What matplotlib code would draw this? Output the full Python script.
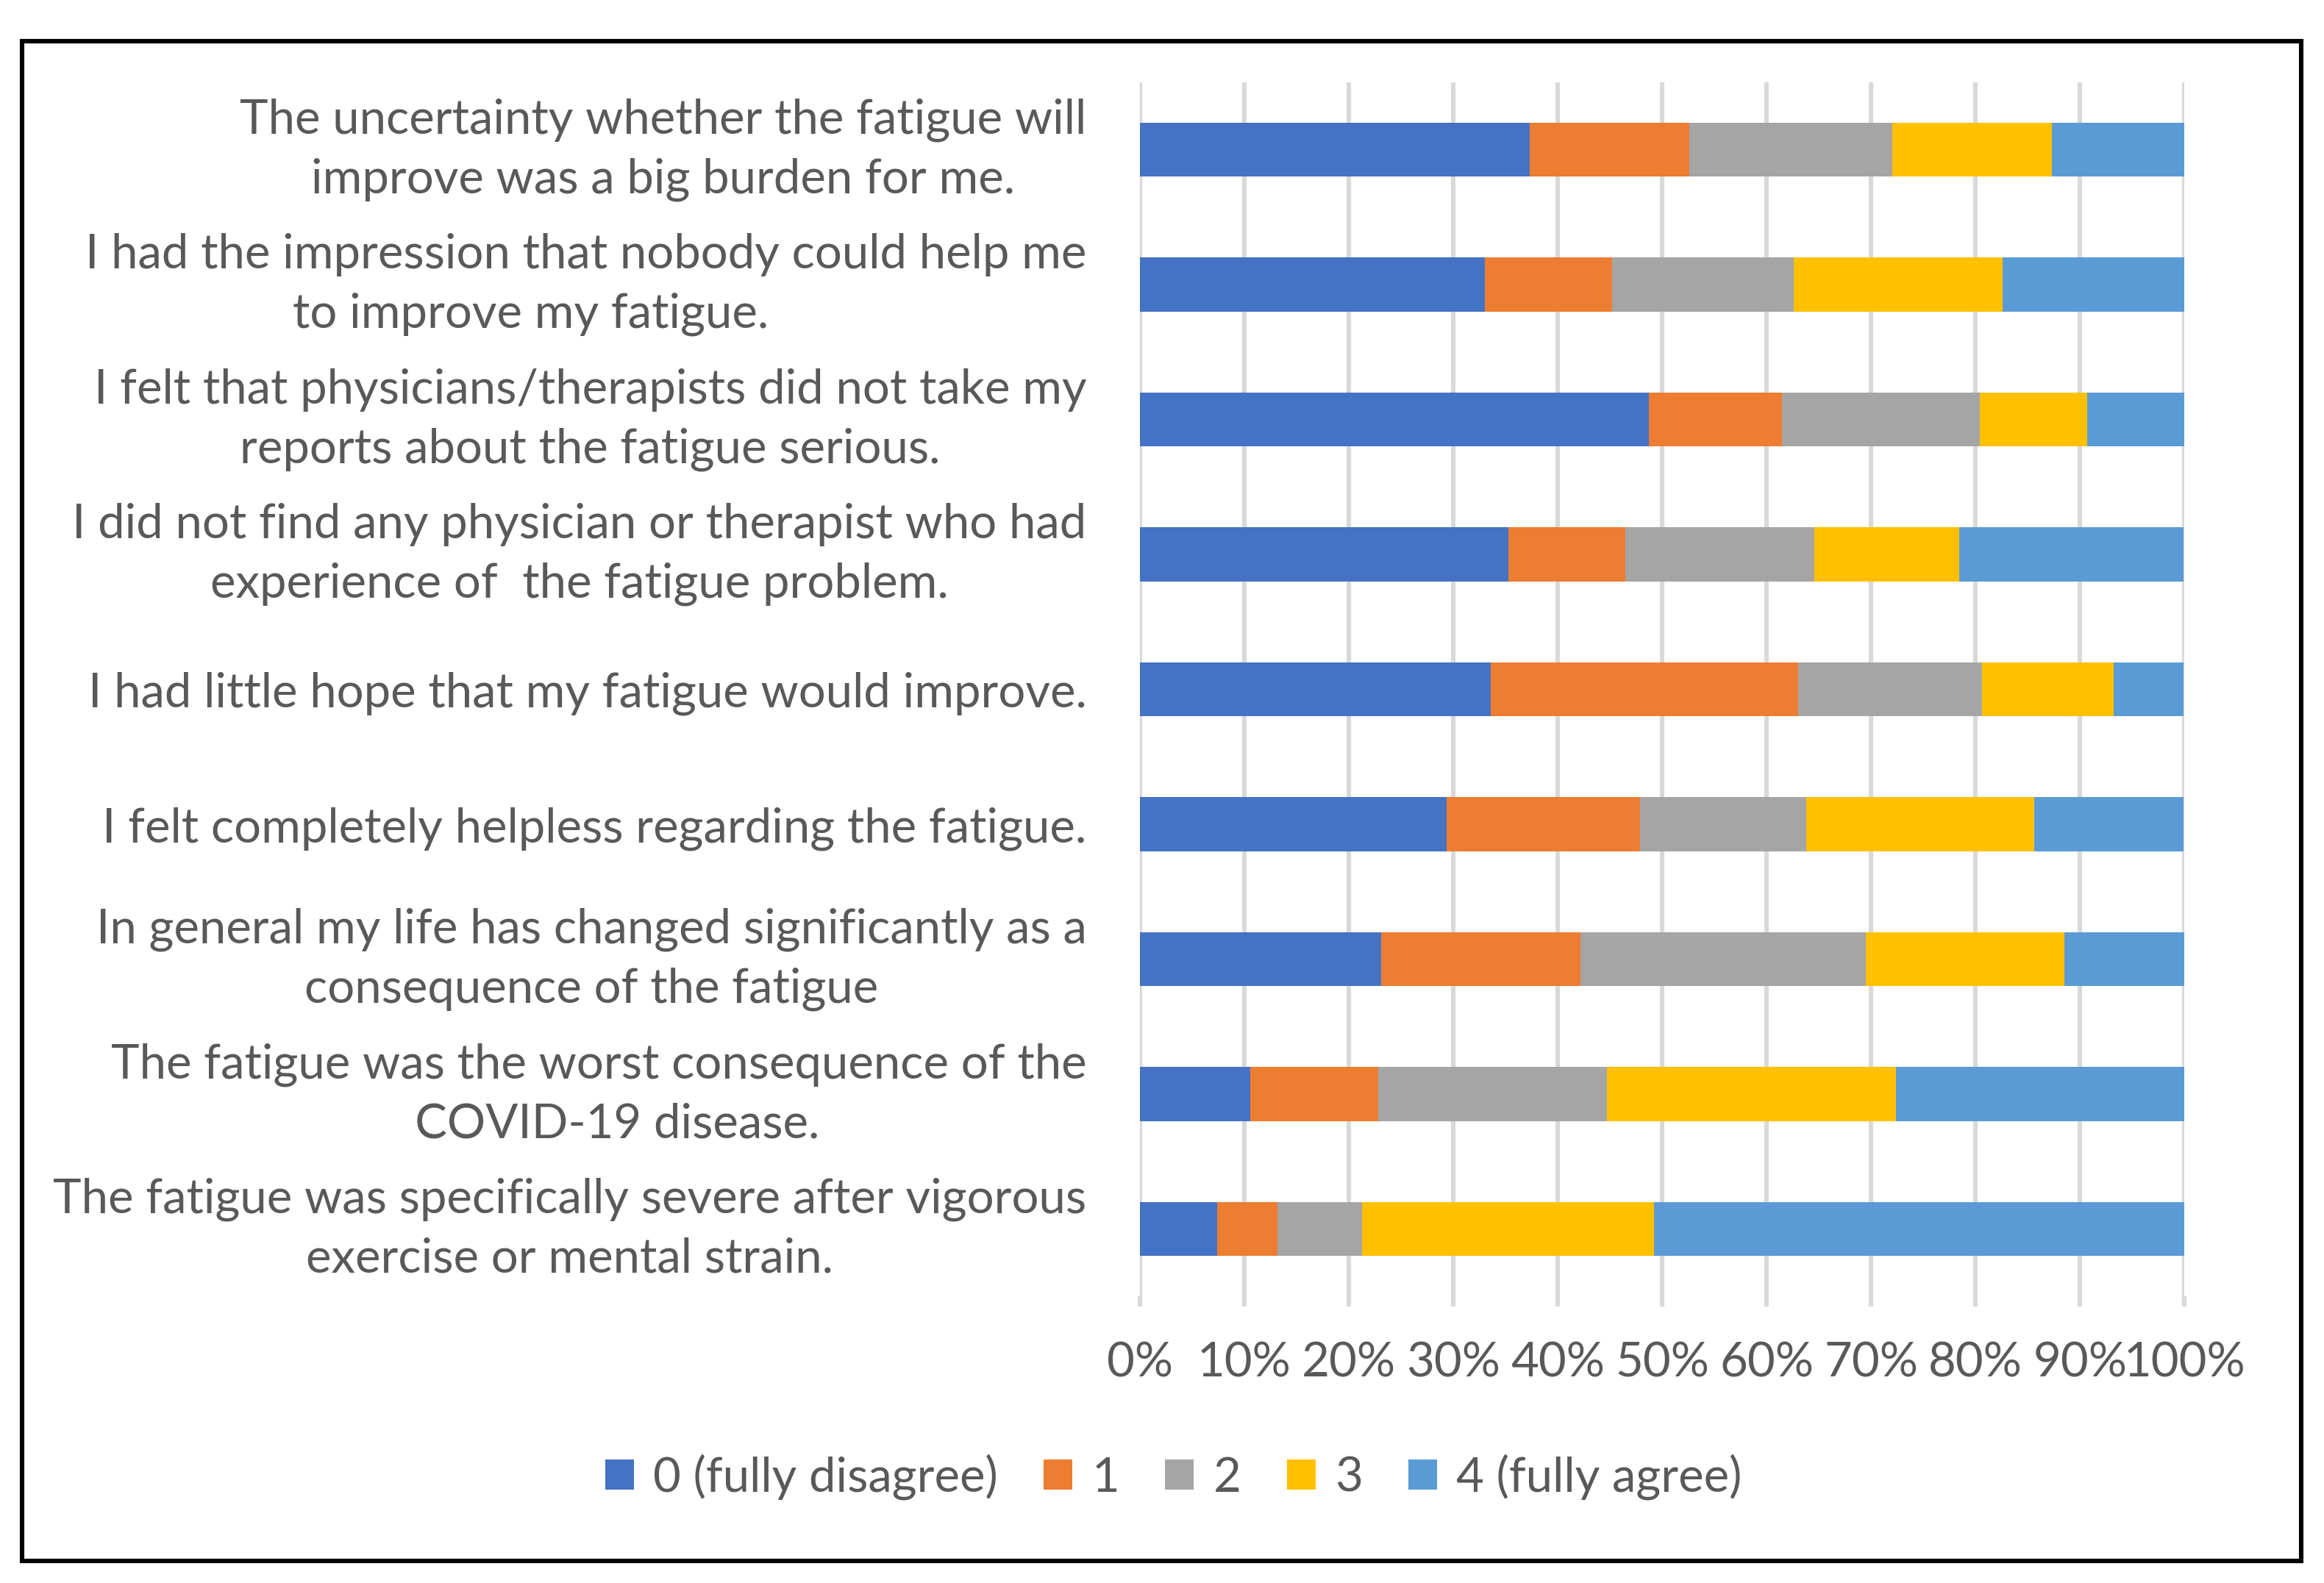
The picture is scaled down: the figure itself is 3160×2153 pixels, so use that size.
import matplotlib
matplotlib.use("Agg")
import matplotlib.pyplot as plt
from matplotlib.patches import Patch, Rectangle

plt.rcParams['font.family'] = ['Lato', 'DejaVu Sans']

# statements, top to bottom as shown
statements = [
    "The uncertainty whether the fatigue will\nimprove was a big burden for me.",
    "I had the impression that nobody could help me\nto improve my fatigue.         ",
    "I felt that physicians/therapists did not take my\nreports about the fatigue serious.",
    "I did not find any physician or therapist who had\nexperience of  the fatigue problem.",
    "I had little hope that my fatigue would improve.",
    "I felt completely helpless regarding the fatigue.",
    "In general my life has changed significantly as a\nconsequence of the fatigue",
    "The fatigue was the worst consequence of the\n   COVID-19 disease.",
    "The fatigue was specifically severe after vigorous\nexercise or mental strain.",
]

# share of answers (%) per score
score0 = [37.3, 33.0, 48.7, 35.3, 33.6, 29.4, 23.1, 10.6, 7.4]
score1 = [15.3, 12.2, 12.8, 11.2, 29.4, 18.5, 19.1, 12.2, 5.8]
score2 = [19.4, 17.4, 18.9, 18.1, 17.6, 15.9, 27.3, 21.9, 8.1]
score3 = [15.3, 20.0, 10.3, 13.8, 12.6, 21.8, 19.0, 27.7, 27.9]
score4 = [12.7, 17.4, 9.3, 21.5, 6.7, 14.3, 11.6, 27.6, 50.8]

series_names = ["0 (fully disagree)", "1", "2", "3", "4 (fully agree)"]
colors = ["#4472C4", "#ED7D31", "#A5A5A5", "#FFC000", "#5B9BD5"]
xticks = [0, 10, 20, 30, 40, 50, 60, 70, 80, 90, 100]

text_col = "#595959"
fs = 23.5

fig = plt.figure(figsize=(15.8, 10.765), dpi=200)
ax = fig.add_axes([0.4904, 0.181, 0.4496, 0.767])

ypos = list(range(len(statements)))
left = [0.0] * len(statements)
for vals, col in zip([score0, score1, score2, score3, score4], colors):
    ax.barh(ypos, vals, left=left, height=0.4, color=col, zorder=3)
    left = [l + v for l, v in zip(left, vals)]

ax.set_xlim(0, 100)
ax.set_ylim(len(statements) - 0.5, -0.5)
ax.set_xticks(xticks)
ax.set_xticklabels([f"{t}%" for t in xticks], fontsize=fs, color=text_col)
ax.set_yticks(ypos)
ax.set_yticklabels(statements, fontsize=fs, color=text_col)
for t in ax.get_yticklabels():
    t.set_multialignment('center')
    t.set_linespacing(1.45)
    if "\n" in t.get_text():
        t.set_verticalalignment('center')

ax.grid(axis='x', color='#D9D9D9', linewidth=2.2, zorder=0)
ax.tick_params(axis='x', length=5, width=2.2, color='#D9D9D9', pad=17)
ax.tick_params(axis='y', length=0, pad=26)
for s in ax.spines.values():
    s.set_visible(False)

handles = [Patch(facecolor=c) for c in colors]
fig.legend(handles, series_names, loc='center', bbox_to_anchor=(0.505, 0.067),
           ncol=5, frameon=False, fontsize=fs, labelcolor=text_col,
           handlelength=0.6, handleheight=0.6, handletextpad=0.4,
           columnspacing=0.95)

# black frame around the whole chart
fig.patches.append(Rectangle((0.0096, 0.014), 0.9806, 0.96, transform=fig.transFigure,
                             fill=False, edgecolor='black', linewidth=2.2))

fig.savefig("out.png", dpi=200)
